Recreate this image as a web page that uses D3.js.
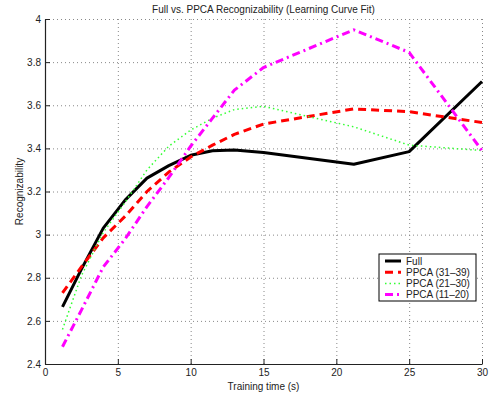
<!DOCTYPE html>
<html>
<head>
<meta charset="utf-8">
<script src="https://cdn.jsdelivr.net/npm/d3@7"></script>
<style>
  html, body { margin: 0; padding: 0; background: #fff; }
  #chart { width: 490px; height: 394px; }
  text { font-family: "Liberation Sans", Arial, sans-serif; fill: #222; }
</style>
</head>
<body>
<div id="chart"></div>
<script>
// Chart data
const times = [1.2, 2.5, 4, 5.5, 7, 8.5, 10, 11.5, 13, 15, 21.2, 25, 30];
const fullValues = [2.665, 2.84, 3.03, 3.16, 3.262, 3.32, 3.368, 3.389, 3.393, 3.381, 3.326, 3.385, 3.71];
const ppca3139 = [2.73, 2.85, 2.985, 3.085, 3.20, 3.29, 3.36, 3.415, 3.465, 3.513, 3.583, 3.57, 3.52];
const ppca2130 = [2.56, 2.81, 3.01, 3.15, 3.30, 3.41, 3.485, 3.54, 3.58, 3.595, 3.50, 3.415, 3.39];
const ppca1120 = [2.48, 2.65, 2.85, 2.98, 3.13, 3.265, 3.41, 3.54, 3.67, 3.775, 3.95, 3.845, 3.39];
const seriesNames = ['Full', 'PPCA (31\u201339)', 'PPCA (21\u201330)', 'PPCA (11\u201320)'];
const xTicks = [0, 5, 10, 15, 20, 25, 30];
const yTicks = [2.4, 2.6, 2.8, 3, 3.2, 3.4, 3.6, 3.8, 4];

const series = [
  { name: seriesNames[0], values: fullValues, color: '#000000', width: 3, dash: null },
  { name: seriesNames[1], values: ppca3139, color: '#ff0000', width: 3, dash: '8,5' },
  { name: seriesNames[2], values: ppca2130, color: '#33ff33', width: 1.5, dash: '1.5,3' },
  { name: seriesNames[3], values: ppca1120, color: '#ff00ff', width: 3, dash: '8,4,2,4' }
];

const width = 490, height = 394;
const margin = { top: 19, right: 8, bottom: 30, left: 45 };

const svg = d3.select('#chart').append('svg')
  .attr('width', width)
  .attr('height', height);

const x = d3.scaleLinear().domain([0, 30]).range([margin.left, width - margin.right]);
const y = d3.scaleLinear().domain([2.4, 4]).range([height - margin.bottom, margin.top]);

// Grid lines (dotted)
svg.append('g')
  .selectAll('line')
  .data(xTicks.slice(1))
  .join('line')
    .attr('x1', d => x(d) + 0.5).attr('x2', d => x(d) + 0.5)
    .attr('y1', y(2.4)).attr('y2', y(4))
    .attr('stroke', '#888').attr('stroke-width', 1)
    .attr('stroke-dasharray', '1,3');
svg.append('g')
  .selectAll('line')
  .data(yTicks.slice(1))
  .join('line')
    .attr('x1', x(0)).attr('x2', x(30))
    .attr('y1', d => y(d) + 0.5).attr('y2', d => y(d) + 0.5)
    .attr('stroke', '#888').attr('stroke-width', 1)
    .attr('stroke-dasharray', '1,3');

// Axes with inward ticks
const xAxis = svg.append('g')
  .attr('transform', `translate(0,${y(2.4)})`)
  .call(d3.axisBottom(x).tickValues(xTicks).tickSizeInner(-5).tickSizeOuter(0).tickPadding(5));
const yAxis = svg.append('g')
  .attr('transform', `translate(${x(0)},0)`)
  .call(d3.axisLeft(y).tickValues(yTicks).tickSizeInner(-5).tickSizeOuter(0).tickPadding(4)
    .tickFormat(d3.format('~g')));
[xAxis, yAxis].forEach(g => {
  g.select('.domain').attr('stroke', '#222').attr('stroke-width', 1.2);
  g.selectAll('.tick line').attr('stroke', '#222');
  g.selectAll('.tick text').style('font-size', '10px').attr('fill', '#222');
});

// Lines
const line = d3.line()
  .x((d, i) => x(times[i]))
  .y(d => y(d));

svg.append('g')
  .selectAll('path')
  .data(series)
  .join('path')
    .attr('d', d => line(d.values))
    .attr('fill', 'none')
    .attr('stroke', d => d.color)
    .attr('stroke-width', d => d.width)
    .attr('stroke-dasharray', d => d.dash)
    .attr('stroke-linejoin', 'round');

// Title and axis labels
svg.append('text')
  .attr('x', (x(0) + x(30)) / 2)
  .attr('y', 13)
  .attr('text-anchor', 'middle')
  .style('font-size', '10px')
  .text('Full vs. PPCA Recognizability (Learning Curve Fit)');

svg.append('text')
  .attr('x', (x(0) + x(30)) / 2)
  .attr('y', 390)
  .attr('text-anchor', 'middle')
  .style('font-size', '10px')
  .text('Training time (s)');

svg.append('text')
  .attr('transform', `translate(23,${(y(2.4) + y(4)) / 2}) rotate(-90)`)
  .attr('text-anchor', 'middle')
  .style('font-size', '10px')
  .text('Recognizability');

// Legend
const legend = svg.append('g').attr('transform', 'translate(379,254)');
legend.append('rect')
  .attr('width', 97).attr('height', 47)
  .attr('fill', '#fff').attr('stroke', '#000').attr('stroke-width', 1);
const rows = legend.selectAll('g.row')
  .data(series)
  .join('g')
    .attr('class', 'row')
    .attr('transform', (d, i) => `translate(0,${7 + i * 11.2})`);
rows.append('line')
  .attr('x1', 6).attr('x2', 22)
  .attr('stroke', d => d.color)
  .attr('stroke-width', d => d.width)
  .attr('stroke-dasharray', d => d.dash);
rows.append('text')
  .attr('x', 27).attr('y', 3.5)
  .style('font-size', '10px')
  .text(d => d.name);
</script>
</body>
</html>
